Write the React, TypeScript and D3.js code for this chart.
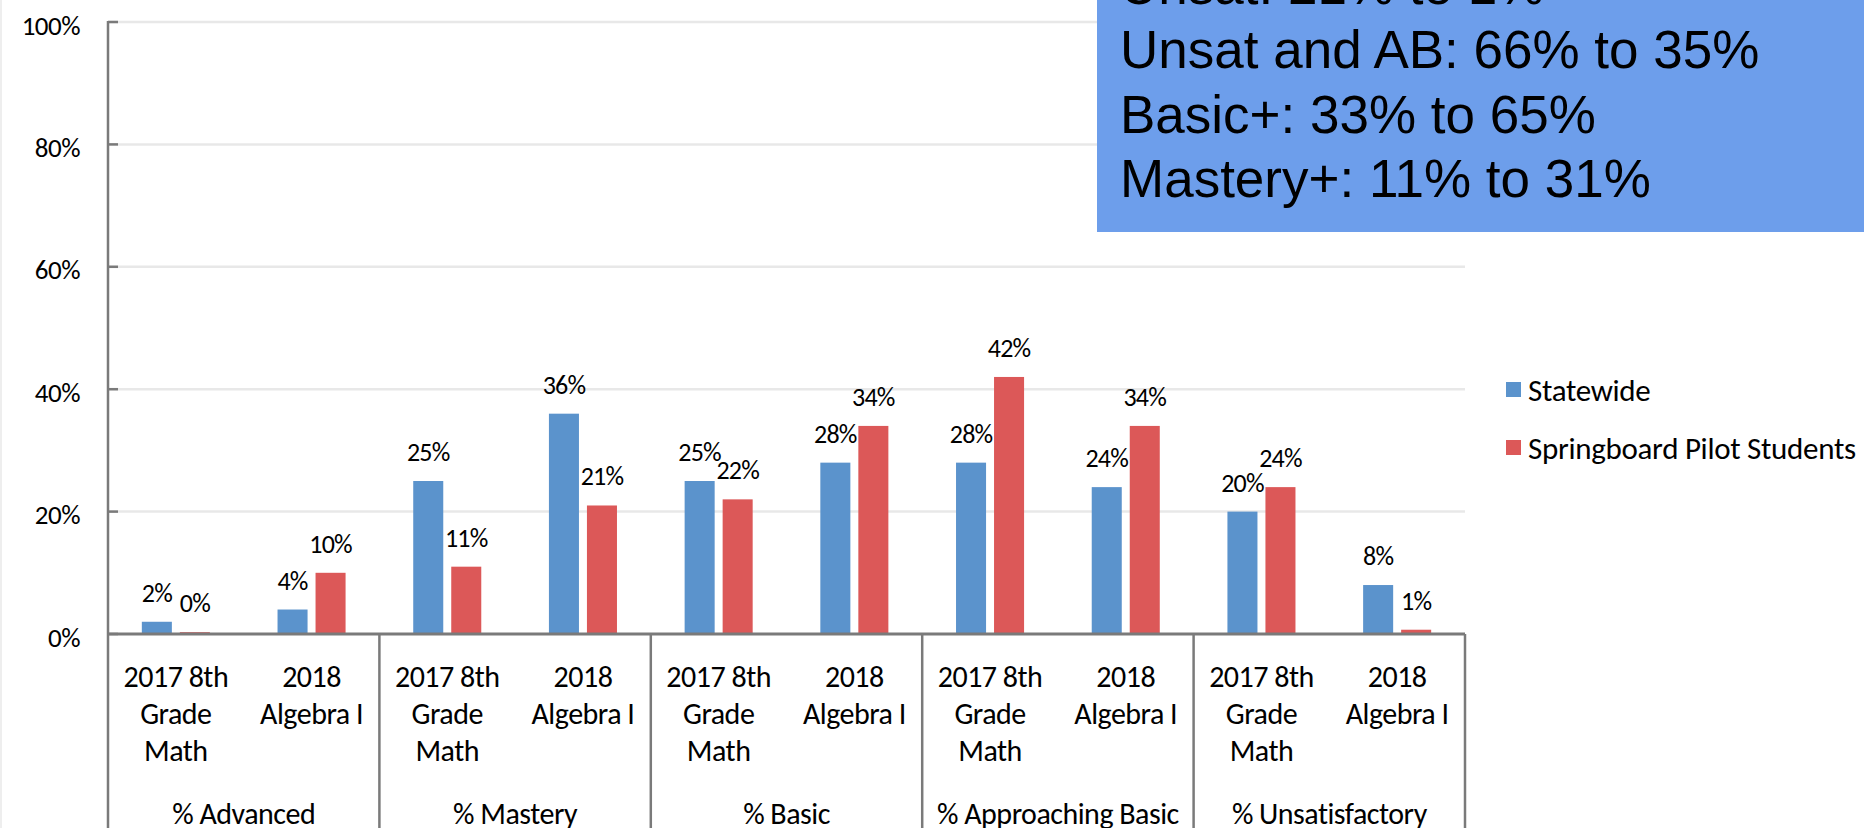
import * as d3 from 'd3'

const groups = ['% Advanced', '% Mastery', '% Basic', '% Approaching Basic', '% Unsatisfactory']
const tests = ['2017 8th Grade Math', '2018 Algebra I']
const testLines: Record<string, string[]> = {
  '2017 8th Grade Math': ['2017 8th', 'Grade', 'Math'],
  '2018 Algebra I': ['2018', 'Algebra I'],
}
const seriesNames = ['Statewide', 'Springboard Pilot Students']
const seriesColors = ['#5b93cc', '#dc5858']

// one value per group x test, in order
const statewide = [2, 4, 25, 36, 25, 28, 28, 24, 20, 8]
const springboard = [0.3, 10, 11, 21, 22, 34, 42, 34, 24, 0.7]
const labelsStatewide = ['2%', '4%', '25%', '36%', '25%', '28%', '28%', '24%', '20%', '8%']
const labelsSpringboard = ['0%', '10%', '11%', '21%', '22%', '34%', '42%', '34%', '24%', '1%']

const yTicks = [0, 20, 40, 60, 80, 100]
const noteLines = ['Unsat: 21% to 1%', 'Unsat and AB: 66% to 35%', 'Basic+: 33% to 65%', 'Mastery+: 11% to 31%']

const W = 1864
const H = 828
const left = 108
const right = 1465
const top = 22
const base = 634
const font = 'Carlito, Lato, sans-serif'
const axisColor = '#7a7a7a'

export default function App() {
  const cats = groups.flatMap(g => tests.map(t => `${g}|${t}`))
  const x = d3.scaleBand<string>().domain(cats).range([left, right])
  const xGroup = d3.scaleBand<string>().domain(groups).range([left, right])
  const xSeries = d3.scaleBand<string>().domain(seriesNames)
    .range([0, x.bandwidth()]).paddingInner(0.21).paddingOuter(0.89)
  const y = d3.scaleLinear().domain([0, 100]).range([base, top])

  const values = [statewide, springboard]
  const labels = [labelsStatewide, labelsSpringboard]

  return (
    <svg width={W} height={H} style={{ position: 'absolute', left: 0, top: 0, background: '#fff' }}>
      <line x1={1} x2={1} y1={0} y2={H} stroke="#eeeeee" strokeWidth={2} />

      {/* gridlines + y ticks */}
      {yTicks.map(t => (
        <g key={t}>
          {t > 0 && <line x1={left} x2={right} y1={y(t)} y2={y(t)} stroke="#e8e8e8" strokeWidth={2.5} />}
          <line x1={left} x2={left + 10} y1={y(t)} y2={y(t)} stroke={axisColor} strokeWidth={2.5} />
          <text x={80} y={y(t) + 3} textAnchor="end" dominantBaseline="central"
            fontFamily={font} fontSize={27} letterSpacing={-0.5} fill="#000">{t}%</text>
        </g>
      ))}
      <line x1={left} x2={left} y1={top - 1} y2={H} stroke={axisColor} strokeWidth={2.5} />

      {/* bars */}
      {values.map((vals, si) => vals.map((v, i) => {
        const bx = x(cats[i])! + xSeries(seriesNames[si])!
        return (
          <g key={`${si}-${i}`}>
            <rect x={bx} y={y(v)} width={xSeries.bandwidth()} height={base - y(v)} fill={seriesColors[si]} />
            <text x={bx + xSeries.bandwidth() / 2} y={y(v) - 29} textAnchor="middle" dominantBaseline="central"
              fontFamily={font} fontSize={26} letterSpacing={-0.8} fill="#000">{labels[si][i]}</text>
          </g>
        )
      }))}

      <line x1={left} x2={right} y1={base} y2={base} stroke={axisColor} strokeWidth={3} />

      {/* category boxes */}
      {groups.map(g => (
        <line key={g} x1={xGroup(g)! + xGroup.bandwidth()} x2={xGroup(g)! + xGroup.bandwidth()}
          y1={base} y2={H} stroke={axisColor} strokeWidth={2.5} />
      ))}
      {cats.map((c, i) => {
        const lines = testLines[tests[i % 2]]
        const cx = x(c)! + x.bandwidth() / 2
        return (
          <text key={c} textAnchor="middle" fontFamily={font} fontSize={30} letterSpacing={-0.5} fill="#000">
            {lines.map((l, li) => (
              <tspan key={li} x={cx} y={676 + li * 37} dominantBaseline="central">{l}</tspan>
            ))}
          </text>
        )
      })}
      {groups.map(g => (
        <text key={g} x={xGroup(g)! + xGroup.bandwidth() / 2} y={813} textAnchor="middle" dominantBaseline="central"
          fontFamily={font} fontSize={30} letterSpacing={-0.5} fill="#000">{g}</text>
      ))}

      {/* legend */}
      {seriesNames.map((s, i) => (
        <g key={s} transform={`translate(1506, ${390 + i * 58})`}>
          <rect x={0} y={-8} width={15} height={15} fill={seriesColors[i]} />
          <text x={22} y={0} dominantBaseline="central" fontFamily={font} fontSize={31} letterSpacing={-0.3} fill="#000">{s}</text>
        </g>
      ))}

      {/* annotation box */}
      <rect x={1097} y={0} width={W - 1097} height={232} fill="#6d9eeb" />
      {noteLines.map((l, i) => (
        <text key={l} x={1120} y={4 + i * 64.3} fontFamily="'Liberation Sans', Arial, sans-serif" fontSize={53} fill="#000">{l}</text>
      ))}
    </svg>
  )
}
